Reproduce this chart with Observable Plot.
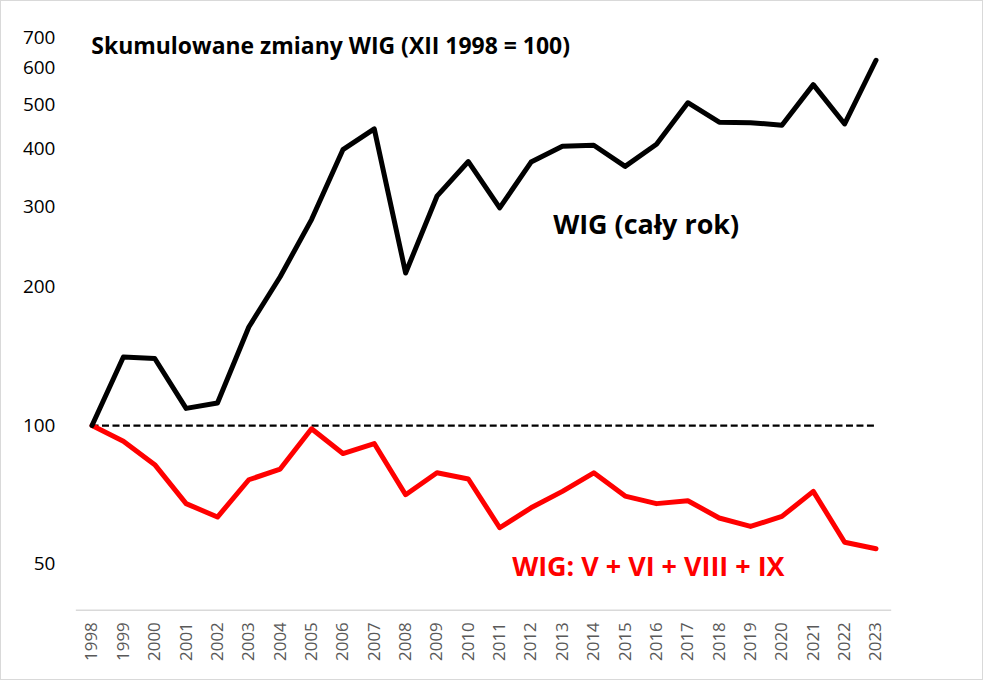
<!DOCTYPE html>
<html>
<head>
<meta charset="utf-8">
<script src="https://cdn.jsdelivr.net/npm/d3@7"></script>
<script src="https://cdn.jsdelivr.net/npm/@observablehq/plot@0.6"></script>
<style>
  html, body { margin: 0; padding: 0; background: #fff; }
  #chart { width: 983px; height: 680px; box-sizing: border-box; border: 1px solid #d9d9d9; overflow: hidden; position: relative; }
  #chart svg { position: absolute; left: -1px; top: -1px; }
</style>
</head>
<body>
<div id="chart"></div>
<script>
const years = [1998, 1999, 2000, 2001, 2002, 2003, 2004, 2005, 2006, 2007, 2008, 2009, 2010,
               2011, 2012, 2013, 2014, 2015, 2016, 2017, 2018, 2019, 2020, 2021, 2022, 2023];
const wigFullYear = [100, 141, 140, 109, 112, 164, 211, 281, 399, 443, 215, 316, 376,
                     298, 375, 406, 408, 367, 410, 505, 458, 457, 451, 553, 454, 625];
const wigSelectedMonths = [100, 92.4, 82.2, 67.6, 63.2, 76.2, 80.4, 98.4, 86.9, 91.4, 70.7, 78.9, 76.5,
                           59.9, 66.2, 71.9, 78.9, 70.2, 67.6, 68.6, 62.9, 60.3, 63.4, 71.9, 55.7, 53.9];
const yTicks = [50, 100, 200, 300, 400, 500, 600, 700];
const baseline = 100;
const titleText = "Skumulowane zmiany WIG (XII 1998 = 100)";
const labelFull = "WIG (cały rok)";
const labelSelected = "WIG: V + VI + VIII + IX";

const rows = years.map((year, i) => ({year, full: wigFullYear[i], sel: wigSelectedMonths[i]}));
const xDomain = [years[0] - 0.5, years[years.length - 1] + 0.5];
const yDomain = [39.6, 763];

const font = "'Open Sans', 'Noto Sans', sans-serif";

const chart = Plot.plot({
  width: 983,
  height: 680,
  marginLeft: 76,
  marginRight: 90,
  marginTop: 20,
  marginBottom: 69,
  style: {fontFamily: font, background: "#fff"},
  x: {type: "linear", domain: xDomain},
  y: {type: "log", domain: yDomain},
  marks: [
    Plot.ruleY([yDomain[0]], {stroke: "#d9d9d9", strokeWidth: 1.5}),
    Plot.axisY({ticks: yTicks, tickSize: 0, tickPadding: 21, tickFormat: d => String(d),
                fontSize: 19, fill: "#000", label: null}),
    Plot.axisX({ticks: years, tickSize: 0, tickPadding: 12, tickRotate: -90, tickFormat: d => String(d),
                fontSize: 17, fill: "#595959", label: null}),
    Plot.ruleY([baseline], {x1: years[0], x2: years[years.length - 1], stroke: "#000",
                            strokeWidth: 2.2, strokeDasharray: "7,3.5"}),
    Plot.line(rows, {x: "year", y: "sel", stroke: "#ff0000", strokeWidth: 5,
                     strokeLinejoin: "round", strokeLinecap: "round"}),
    Plot.line(rows, {x: "year", y: "full", stroke: "#000", strokeWidth: 5,
                     strokeLinejoin: "round", strokeLinecap: "round"}),
    Plot.text([titleText], {frameAnchor: "top-left", dx: 15, dy: 26, textAnchor: "start",
                            lineAnchor: "middle", fontSize: 23, fontWeight: "bold", fill: "#000"}),
    Plot.text([{x: 2015.67, y: 273.5, t: labelFull}], {x: "x", y: "y", text: "t", fontSize: 27,
                            fontWeight: "bold", fill: "#000", lineAnchor: "middle"}),
    Plot.text([{x: 2015.74, y: 49.1, t: labelSelected}], {x: "x", y: "y", text: "t", fontSize: 27,
                            fontWeight: "bold", fill: "#ff0000", lineAnchor: "middle"})
  ]
});
document.getElementById("chart").appendChild(chart);
</script>
</body>
</html>
